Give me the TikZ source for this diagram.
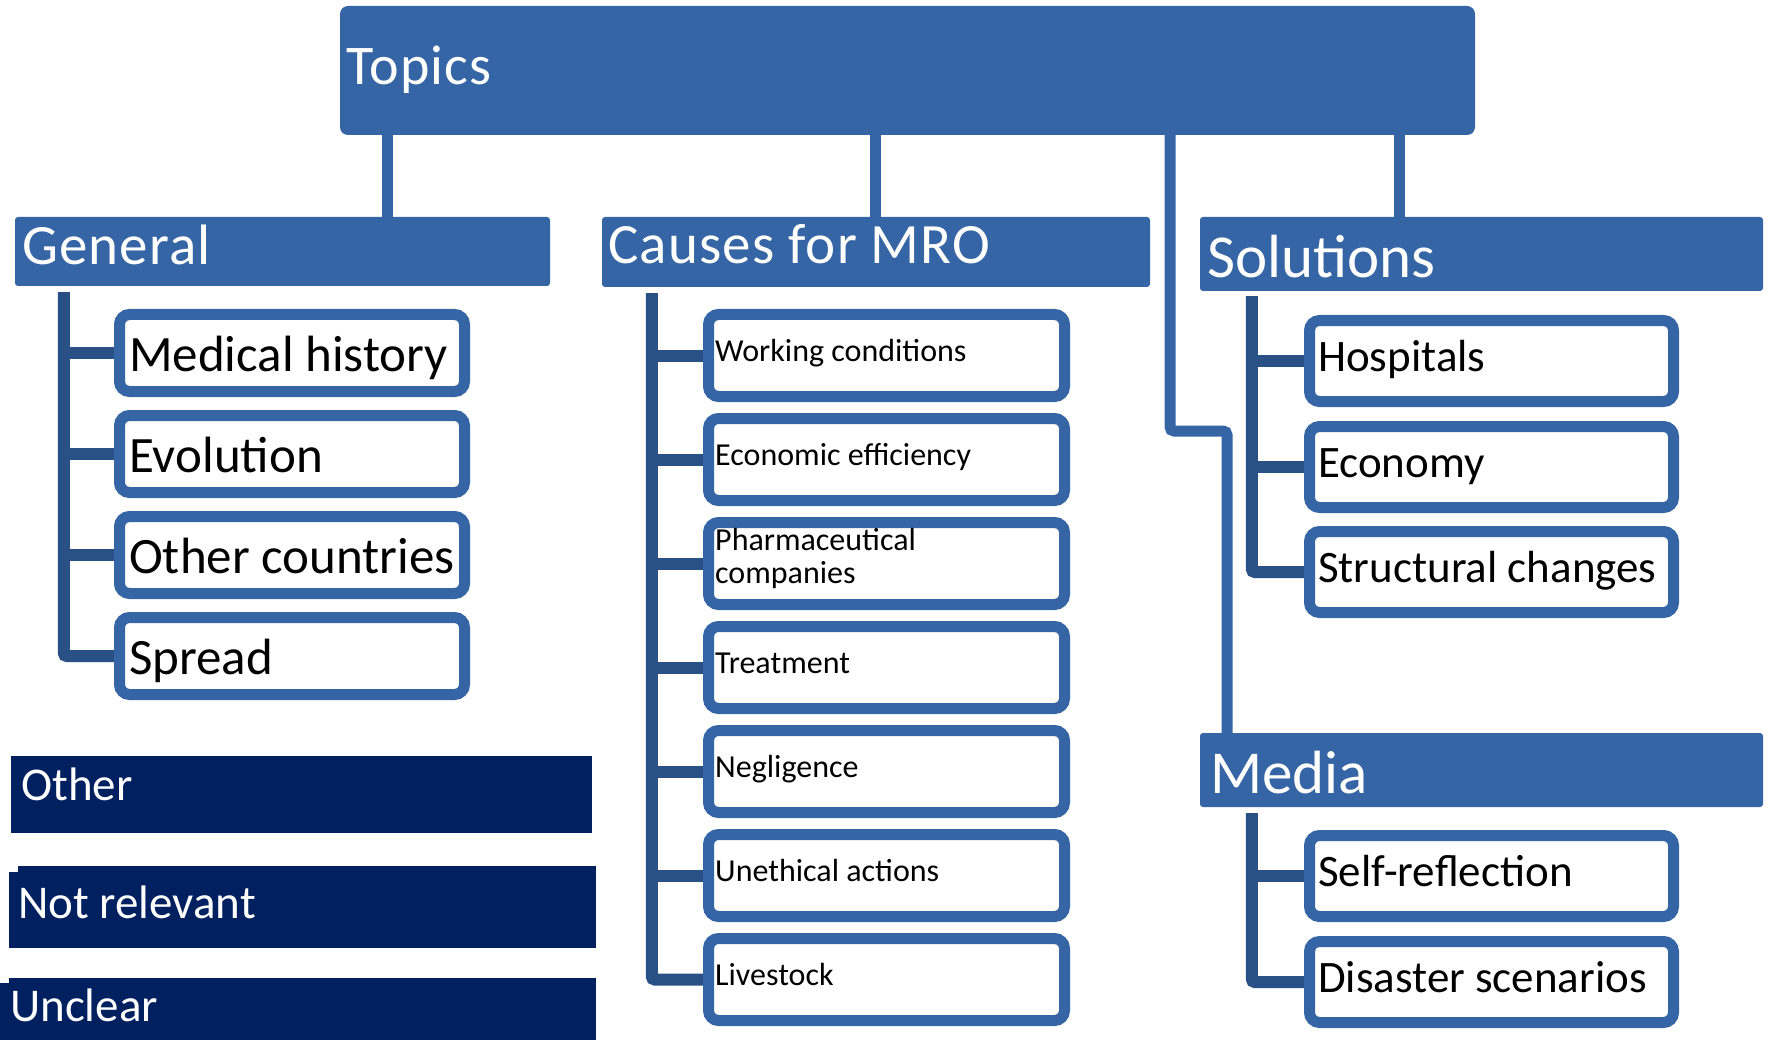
\documentclass[tikz,border=0pt]{standalone}
\usepackage{fontspec}
\setmainfont{Carlito}
\usetikzlibrary{calc,backgrounds}
\definecolor{accent}{RGB}{53,101,164}
\definecolor{bracket}{RGB}{42,81,134}
\definecolor{navy}{RGB}{0,32,96}

% font size in points (1pt = one unit of the grid)
\newcommand\fsz[1]{\fontsize{#1pt}{#1pt}\selectfont}
% slightly tracked setting for the main headers
\newcommand\wide{\addfontfeature{LetterSpace=2}}

% filled box from its outer corners: style, name, x1, y1, x2, y2
\newcommand\mkbox[6]{%
  \pgfmathsetmacro\bw{#5-#3}\pgfmathsetmacro\bh{#6-#4}%
  \node[#1, minimum width=\bw pt, minimum height=\bh pt] (#2) at ({(#3+#5)/2},{(#4+#6)/2}) {};}
% outlined box from its outer corners (border is 11 wide): name, x1, y1, x2, y2
\newcommand\mkkid[5]{%
  \pgfmathsetmacro\bw{#4-#2-11}\pgfmathsetmacro\bh{#5-#3-11}%
  \node[kid, minimum width=\bw pt, minimum height=\bh pt] (#1) at ({(#2+#4)/2},{(#3+#5)/2}) {};}

\begin{document}
\begin{tikzpicture}[x=1pt,y=-1pt,
  hdr/.style={fill=accent, inner sep=0, rounded corners=3pt},
  dark/.style={fill=navy, inner sep=0},
  kid/.style={draw=accent, line width=11pt, fill=white, inner sep=0, rounded corners=10pt},
  lnk/.style={draw=accent, line width=11pt},
  brk/.style={draw=bracket, line width=12pt, rounded corners=3pt},
  lbl/.style={inner sep=0, anchor=base west, text=black},
  wlbl/.style={inner sep=0, anchor=base west, text=white},
]
\useasboundingbox (0,0) rectangle (1768,1040);

% ---- headers ----
\mkbox{hdr, rounded corners=8pt}{topics}{340}{6}{1475}{135}
\mkbox{hdr}{gen}{15}{217}{550}{286}
\mkbox{hdr}{cau}{602}{217}{1150}{287}
\mkbox{hdr}{sol}{1200}{217}{1763}{291}
\mkbox{hdr}{med}{1200}{733}{1763}{807}

% ---- dark category boxes ----
\mkbox{dark}{other}{11}{756}{592}{833}
\mkbox{dark}{notrel}{18}{866}{596}{948}
\fill[navy] (9,872) rectangle (30,948);
\mkbox{dark}{unclear}{9}{978}{596}{1040}
\fill[navy] (0,983) rectangle (20,1040);

% ---- links from Topics ----
\coordinate (gen-in) at ($(gen.north west)+(373,0)$);
\coordinate (cau-in) at ($(cau.north west)+(274,0)$);
\coordinate (sol-in) at ($(sol.north west)+(200,0)$);
\coordinate (med-a) at (1170,431);
\coordinate (med-b) at (1227,431);
\draw[lnk] (topics.south -| gen-in) -- (gen-in);
\draw[lnk] (topics.south -| cau-in) -- (cau-in);
\draw[lnk] (topics.south -| sol-in) -- (sol-in);
\draw[lnk, rounded corners=4pt] (topics.south -| med-a) -- (med-a) -- (med-b) -- (med.north -| med-b);

% ---- child boxes ----
\mkkid{mh}{114}{309}{470}{397}
\mkkid{ev}{114}{410}{470}{498}
\mkkid{oc}{114}{511}{470}{599}
\mkkid{sp}{114}{612}{470}{700}

\mkkid{wc}{703}{309}{1070}{402}
\mkkid{ee}{703}{413}{1070}{506}
\mkkid{pc}{703}{517}{1070}{610}
\mkkid{tr}{703}{621}{1070}{714}
\mkkid{ng}{703}{725}{1070}{818}
\mkkid{ua}{703}{829}{1070}{922}
\mkkid{ls}{703}{933}{1070}{1026}

\mkkid{ho}{1304}{315}{1679}{407}
\mkkid{ec}{1304}{421}{1679}{513}
\mkkid{sc}{1304}{526}{1679}{618}

\mkkid{sr}{1304}{830}{1679}{922}
\mkkid{ds}{1304}{936}{1679}{1028}

% ---- brackets joining each header to its children (behind the boxes) ----
\coordinate (g-top) at ($(gen.south west)+(49,6)$);
\coordinate (c-top) at ($(cau.south west)+(50,6)$);
\coordinate (s-top) at ($(sol.south west)+(52,5)$);
\coordinate (m-top) at ($(med.south west)+(52,6)$);
\begin{pgfonlayer}{background}
\draw[brk] (g-top) |- (sp.west);
\foreach \k in {mh,ev,oc} \draw[brk] (g-top |- \k.west) -- (\k.west);
\draw[brk] (c-top) |- (ls.west);
\foreach \k in {wc,ee,pc,tr,ng,ua} \draw[brk] (c-top |- \k.west) -- (\k.west);
\draw[brk] (s-top) |- (sc.west);
\foreach \k in {ho,ec} \draw[brk] (s-top |- \k.west) -- (\k.west);
\draw[brk] (m-top) |- (ds.west);
\draw[brk] (m-top |- sr.west) -- (sr.west);
\end{pgfonlayer}

% ---- header texts ----
\node[wlbl, font=\fsz{56}\wide] (t-topics) at (346,85) {Topics};
\node[wlbl, font=\fsz{57}\wide] (t-gen) at (22,265) {General};
\node[wlbl, font=\fsz{57}\wide] (t-cau) at (608,264) {Causes for MRO};
\node[wlbl, font=\fsz{61}] (t-sol) at (1207,278) {Solutions};
\node[wlbl, font=\fsz{61}] (t-med) at (1210,793) {Media};

\node[wlbl, font=\fsz{47}] (t-other) at (21,800) {Other};
\node[wlbl, font=\fsz{47}] (t-notrel) at (18,918) {Not relevant};
\node[wlbl, font=\fsz{47}] (t-unclear) at (10,1021) {Unclear};

% ---- child texts ----
\node[lbl, font=\fsz{51}] (t-mh) at (129,371) {Medical history};
\node[lbl, font=\fsz{51}] (t-ev) at (129,472) {Evolution};
\node[lbl, font=\fsz{51}] (t-oc) at (129,573) {Other countries};
\node[lbl, font=\fsz{51}] (t-sp) at (129,674) {Spread};

\node[lbl, font=\fsz{32}] (t-wc) at (715,361) {Working conditions};
\node[lbl, font=\fsz{32}] (t-ee) at (715,465) {Economic efficiency};
\node[lbl, font=\fontsize{32pt}{33pt}\selectfont] (t-pc) at (715,550)
  {\vtop{\hbox{Pharmaceutical}\hbox{companies}}};
\node[lbl, font=\fsz{32}] (t-tr) at (715,673) {Treatment};
\node[lbl, font=\fsz{32}] (t-ng) at (715,777) {Negligence};
\node[lbl, font=\fsz{32}] (t-ua) at (715,881) {Unethical actions};
\node[lbl, font=\fsz{32}] (t-ls) at (715,985) {Livestock};

\node[lbl, font=\fsz{45}] (t-ho) at (1318,371) {Hospitals};
\node[lbl, font=\fsz{45}] (t-ec) at (1318,477) {Economy};
\node[lbl, font=\fsz{45}] (t-sc) at (1318,582) {Structural changes};
\node[lbl, font=\fsz{45}] (t-sr) at (1318,886) {Self-reflection};
\node[lbl, font=\fsz{45}] (t-ds) at (1318,992) {Disaster scenarios};
\end{tikzpicture}
\end{document}
